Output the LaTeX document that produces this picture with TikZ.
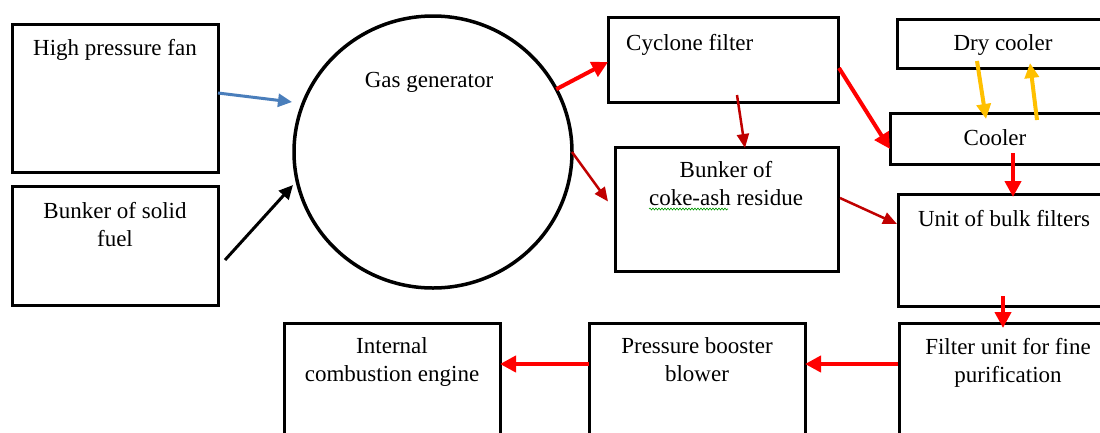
\documentclass[tikz,border=0pt]{standalone}
\usepackage{fontspec}
\setmainfont{Liberation Serif}
\usetikzlibrary{arrows.meta,calc,shapes.geometric,decorations.pathmorphing}
\definecolor{rd}{RGB}{255,0,0}
\definecolor{drd}{RGB}{192,0,0}
\definecolor{bl}{RGB}{74,126,187}
\definecolor{org}{RGB}{255,192,0}
\tikzset{
  box/.style={draw=black, line width=3pt, rectangle, outer sep=0pt, inner sep=0pt, fill=white},
  txt/.style={anchor=base, inner sep=0pt, font=\fontsize{23}{28}\selectfont},
  redarr/.style={draw=rd, line width=4pt, -{Triangle[length=16pt,width=16pt]}},
  darr/.style={draw=drd, line width=2.5pt, -{Triangle[length=14pt,width=12pt]}},
  bluearr/.style={draw=bl, line width=3pt, -{Triangle[length=14pt,width=13pt]}},
  blkarr/.style={draw=black, line width=3pt, -{Triangle[length=14pt,width=13pt]}},
  orarr/.style={draw=org, line width=4pt, -{Triangle[length=15pt,width=14pt]}},
}
\begin{document}
\begin{tikzpicture}[x=1pt,y=-1pt]
\useasboundingbox (0,0) rectangle (1100,432);
\clip (0,0) rectangle (1100,432);
\fill[white] (0,0) rectangle (1100,432);

% boxes
\node[box, minimum width=206pt, minimum height=148pt] (fan) at (115,98) {};
\node[box, minimum width=206pt, minimum height=119pt] (fuel) at (115,245.5) {};
\node[draw=black, line width=3.5pt, ellipse, outer sep=0pt, inner sep=0pt, minimum width=278pt, minimum height=272pt] (gen) at (433,152) {};
\node[box, minimum width=230pt, minimum height=85pt] (cyc) at (723,59.5) {};
\node[box, minimum width=223pt, minimum height=124pt] (coke) at (726.5,209) {};
\node[box, minimum width=213pt, minimum height=49pt] (dry) at (1003.5,43.5) {};
\node[box, minimum width=220pt, minimum height=51pt] (cool) at (1000,138.5) {};
\node[box, minimum width=212pt, minimum height=112pt] (unit) at (1004,250) {};
\node[box, minimum width=211pt, minimum height=122pt] (fine) at (1004.5,384) {};
\node[box, minimum width=216pt, minimum height=122pt] (boost) at (697,384) {};
\node[box, minimum width=216pt, minimum height=122pt] (ice) at (392,384) {};

% texts
\node[txt] (fant) at (115,55.5) {High pressure fan};
\node[txt] (fuelt1) at (115,218.5) {Bunker of solid};
\node[txt] (fuelt2) at (115,246.5) {fuel};
\node[txt] (gent) at (429,87.5) {Gas generator};
\node[txt, anchor=base west] (cyct) at (626,50) {Cyclone filter};
\node[txt] (coket1) at (726,177.5) {Bunker of};
\node[txt] (coket2) at (726,205.5) {coke-ash residue};
\node[txt] (dryt) at (1003,50.5) {Dry cooler};
\node[txt] (coolt) at (995,145) {Cooler};
\node[txt] (unitt) at (1004,226) {Unit of bulk filters};
\node[txt] (finet1) at (1008,354) {Filter unit for fine};
\node[txt] (finet2) at (1008,382) {purification};
\node[txt] (boostt1) at (697,353.5) {Pressure booster};
\node[txt] (boostt2) at (697,381.5) {blower};
\node[txt] (icet1) at (392,353.5) {Internal};
\node[txt] (icet2) at (392,381.5) {combustion engine};

% spell-check underline
\draw[green!60!black, line width=0.6pt, decorate, decoration={snake, amplitude=1pt, segment length=3pt}]
  (649,209) -- (728,209);

% connectors
\coordinate (fanin) at ($(gen.west)+(-2,-50)$);
\coordinate (fuelin) at ($(gen.west)+(-1,33)$);
\draw[bluearr] ($(fan.east)+(0,-5)$) -- (fanin);
\draw[blkarr] ($(fuel.east)+(7,14.5)$) -- (fuelin);
\draw[redarr] (gen.27) -- ($(cyc.west)+(0,2.5)$);
\draw[darr] (gen.east) -- ($(coke.west)+(-7,-7.5)$);
\draw[darr] ($(cyc.south)+(14,-7)$) -- ($(coke.north)+(18.5,1)$);
\draw[redarr] ($(cyc.east)+(1,8.5)$) -- ($(cool.west)+(0,10.5)$);
\draw[darr] ($(coke.east)+(2,-11)$) -- ($(unit.west)+(-1,-26)$);
\draw[orarr] ($(dry.south west)+(80,-7)$) -- ($(cool.north west)+(96,6)$);
\draw[orarr] ($(cool.north west)+(147,7)$) -- ($(dry.south west)+(133,-5)$);
\draw[redarr] ($(cool.north west)+(123,40)$) -- ($(unit.north west)+(115,3)$);
\draw[redarr] ($(unit.south west)+(105,-10)$) -- ($(fine.north west)+(104,5)$);
\draw[redarr] ($(fine.west)+(-1,-20)$) -- ($(boost.east)+(0,-20)$);
\draw[redarr] ($(boost.west)+(0,-20)$) -- ($(ice.east)+(0,-20)$);
\end{tikzpicture}
\end{document}
